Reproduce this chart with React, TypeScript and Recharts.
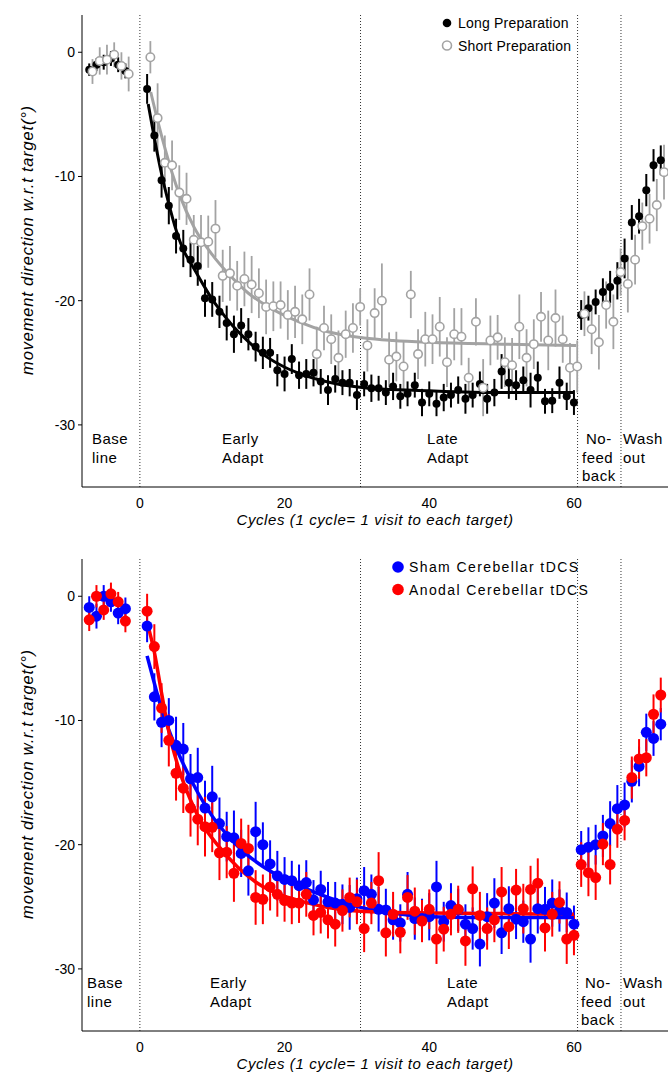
import React from 'react';
import { ComposedChart, Scatter, Line, XAxis, YAxis, ErrorBar, ReferenceLine } from 'recharts';

// ---------- data ----------
const cycles = [-7, -6, -5, -4, -3, -2,
  1, 2, 3, 4, 5, 6, 7, 8, 9, 10, 11, 12, 13, 14, 15, 16, 17, 18, 19, 20,
  21, 22, 23, 24, 25, 26, 27, 28, 29, 30, 31, 32, 33, 34, 35, 36, 37, 38, 39, 40,
  41, 42, 43, 44, 45, 46, 47, 48, 49, 50, 51, 52, 53, 54, 55, 56, 57, 58, 59, 60,
  61, 62, 63, 64, 65, 66, 67, 68, 69, 70, 71, 72];

const longPrep = [-1.4, -1.0, -0.8, -0.5, -1.0, -1.5,
  -2.95, -6.7, -10.3, -12.35, -14.8, -15.8, -16.7, -17.2, -19.8, -19.9,
  -20.9, -21.8, -22.7, -22.0, -22.7, -23.7, -24.2, -24.2, -25.6, -25.9,
  -24.7, -26.0, -25.9, -25.8, -26.5, -27.2, -26.3, -26.6, -26.6, -27.6,
  -26.7, -27.05, -27.05, -27.4, -26.9, -27.7, -27.5, -26.8, -28.2, -27.5,
  -28.3, -27.8, -27.6, -27.2, -27.9, -27.6, -26.7, -27.9, -27.4, -25.7,
  -26.6, -26.8, -26.4, -27.2, -26.2, -28.1, -28.05, -26.6, -27.7, -28.2,
  -21.15, -20.6, -20.1, -19.3, -18.9, -18.4,
  -16.6, -13.7, -13.2, -11.1, -9.1, -8.7];
const longPrepErr = [0.5, 0.5, 0.6, 0.6, 0.6, 0.6,
  1.2, 1.3, 1.4, 1.5, 1.4, 1.5, 1.4, 1.6, 1.5, 1.4,
  1.3, 1.4, 1.5, 1.4, 1.3, 1.2, 1.3, 1.2, 1.3, 1.4,
  1.2, 1.1, 1.2, 1.1, 1.0, 1.2, 1.1, 1.0, 1.1, 1.2,
  1.0, 1.1, 1.0, 1.0, 1.1, 1.0, 1.0, 1.0, 1.1, 1.0,
  1.0, 1.1, 1.0, 1.1, 1.2, 1.0, 1.0, 1.2, 1.1, 1.4,
  1.3, 1.2, 1.1, 1.4, 1.3, 1.0, 1.0, 1.3, 1.1, 1.0,
  1.2, 1.0, 1.0, 1.1, 1.3, 1.5,
  1.6, 1.4, 1.4, 1.3, 1.3, 1.2];

const shortPrep = [-1.55, -0.7, -0.6, -0.2, -1.1, -1.75,
  -0.4, -5.3, -8.9, -9.1, -11.3, -11.8, -15.1, -15.3, -15.25, -14.2,
  -18.0, -17.8, -18.8, -18.25, -18.7, -19.4, -20.5, -20.45, -20.35, -21.15,
  -20.9, -21.5, -19.5, -24.3, -22.2, -23.1, -24.6, -22.7, -22.2, -20.5,
  -23.6, -21.0, -20.0, -24.75, -24.5, -25.3, -19.5, -24.3, -23.1, -23.1,
  -22.1, -24.95, -22.7, -22.9, -26.2, -21.7, -27.0, -23.2, -22.95, -24.95,
  -25.2, -22.1, -24.6, -23.5, -21.3, -23.2, -21.4, -23.1, -25.4, -25.3,
  -21.05, -22.3, -23.35, -20.35, -21.7, -17.7,
  -18.65, -16.7, -14.0, -13.4, -12.3, -9.65];
const shortPrepErr = [1.0, 1.1, 1.2, 1.0, 1.1, 1.4,
  1.3, 2.8, 2.2, 2.0, 2.2, 2.1, 2.0, 2.2, 2.1, 2.3,
  2.1, 2.2, 2.0, 2.2, 2.3, 2.0, 2.2, 2.0, 1.9, 2.0,
  2.1, 2.0, 2.1, 2.2, 1.8, 2.0, 2.2, 1.9, 2.0, 1.5,
  2.1, 2.0, 3.0, 2.2, 2.0, 2.1, 1.9, 2.0, 2.2, 2.0,
  2.4, 2.0, 2.1, 2.3, 1.6, 1.9, 2.3, 2.0, 1.8, 2.0,
  2.2, 2.6, 2.3, 2.0, 2.0, 2.4, 2.3, 1.9, 2.0, 2.1,
  1.8, 2.0, 2.2, 1.9, 2.2, 1.9,
  2.3, 2.0, 1.9, 2.0, 2.1, 2.2];

const sham = [-0.9, -1.6, 0.0, -0.45, -1.35, -1.0,
  -2.4, -8.1, -10.15, -10.0, -12.0, -12.3, -14.7, -14.6, -17.05, -16.15,
  -18.3, -19.35, -19.45, -20.7, -22.1, -18.95, -20.0, -21.55, -22.5, -22.8,
  -22.9, -23.3, -23.05, -24.45, -23.6, -24.6, -24.7, -24.8, -25.05, -24.35,
  -23.7, -24.0, -25.2, -25.25, -26.05, -26.3, -24.0, -25.95, -25.95, -25.8,
  -23.4, -26.2, -24.9, -25.25, -26.4, -26.75, -28.0, -25.8, -24.7, -27.1,
  -25.15, -26.0, -26.2, -27.6, -25.15, -25.2, -24.7, -25.3, -25.45, -26.4,
  -20.4, -20.2, -20.0, -19.3, -18.3, -17.1,
  -16.8, -14.9, -13.7, -10.95, -11.45, -10.3];
const shamErr = [0.9, 1.0, 0.9, 0.8, 0.9, 0.9,
  1.3, 1.9, 2.0, 1.8, 2.3, 2.1, 2.0, 2.4, 2.2, 2.5,
  2.1, 2.0, 2.2, 1.9, 2.0, 2.4, 1.8, 1.9, 2.0, 1.8,
  1.6, 1.7, 1.8, 1.6, 1.5, 1.6, 1.7, 1.6, 1.8, 1.7,
  1.9, 1.6, 1.8, 1.7, 1.6, 1.5, 1.8, 1.7, 1.6, 1.9,
  2.1, 1.6, 1.8, 1.7, 1.6, 1.7, 1.8, 1.9, 2.0, 1.7,
  1.8, 1.6, 1.7, 1.9, 2.0, 1.8, 1.9, 1.7, 1.6, 1.5,
  1.5, 1.6, 1.6, 1.7, 1.8, 1.9,
  1.8, 1.7, 1.6, 1.5, 1.4, 1.3];

const anodal = [-1.9, 0.0, -1.1, 0.2, -0.45, -2.0,
  -1.2, -4.05, -9.0, -11.6, -14.25, -15.45, -17.05, -17.95, -18.55, -18.6,
  -20.65, -20.6, -22.3, -19.9, -20.3, -24.25, -24.4, -23.4, -24.0, -24.5,
  -24.7, -24.7, -24.0, -25.7, -25.45, -26.05, -26.4, -25.3, -24.25, -24.6,
  -26.75, -24.7, -22.9, -27.1, -25.6, -27.05, -24.25, -25.35, -26.15, -25.2,
  -27.6, -26.8, -25.6, -25.2, -27.75, -23.55, -25.7, -26.75, -26.05, -23.8,
  -26.6, -23.65, -25.15, -23.6, -23.1, -26.7, -25.6, -24.65, -27.6, -27.3,
  -21.6, -22.25, -22.65, -19.95, -21.6, -18.75,
  -18.05, -14.6, -13.1, -13.0, -9.5, -7.95];
const anodalErr = [0.9, 0.9, 0.8, 0.9, 0.8, 0.9,
  1.4, 1.8, 2.0, 2.1, 2.2, 2.0, 2.3, 2.1, 2.4, 2.0,
  2.2, 2.1, 2.3, 2.0, 1.9, 2.2, 2.0, 1.9, 1.8, 1.7,
  1.7, 1.6, 1.8, 1.6, 1.7, 1.5, 1.8, 1.7, 1.6, 1.8,
  1.9, 1.7, 2.3, 1.9, 1.8, 1.7, 1.8, 1.9, 1.7, 1.6,
  2.0, 1.8, 1.7, 1.9, 2.0, 1.8, 1.9, 1.7, 1.8, 2.0,
  1.8, 1.7, 2.0, 1.9, 2.0, 1.9, 1.8, 1.7, 2.0, 1.6,
  1.8, 1.9, 1.8, 1.7, 1.6, 1.5,
  1.6, 1.7, 1.6, 1.5, 1.6, 1.4];

// exponential fits
const fitLongX = [1.15, 2, 3, 4, 5, 6, 7, 8, 9, 10, 11, 12.5, 15, 17, 19.5, 22, 26, 31, 40, 50, 60];
const fitLongY = [-4.16, -6.9, -9.8, -12.2, -14.3, -15.9, -16.95, -17.95, -18.95, -19.9, -20.7, -21.8, -23.3, -24.3, -25.2, -25.85, -26.55, -27.0, -27.25, -27.4, -27.4];
const fitShortX = [1.5, 2.5, 3.5, 4.5, 5.5, 7.5, 10, 12.5, 15, 17.5, 22, 26, 31, 35, 40, 50, 60.3];
const fitShortY = [-3.2, -5.6, -7.8, -9.8, -11.5, -14.1, -16.3, -18.0, -19.4, -20.4, -21.7, -22.5, -23.0, -23.2, -23.35, -23.5, -23.6];
const fitShamX = [1, 2, 3, 4.5, 6, 8, 10, 12.5, 15, 17, 19.5, 22, 26, 30.5, 35, 40, 50, 60];
const fitShamY = [-4.8, -7.0, -9.1, -11.5, -13.5, -15.8, -17.7, -19.5, -20.9, -21.75, -22.6, -23.3, -24.25, -25.05, -25.5, -25.8, -25.87, -25.87];
const fitAnodalX = [1, 2, 3, 4, 5.5, 7, 8.5, 11, 13.5, 16, 19.5, 22, 26, 30.5, 40, 50, 60];
const fitAnodalY = [-2.1, -4.5, -7.8, -10.9, -14.1, -16.4, -18.2, -20.2, -21.8, -23.0, -24.05, -24.5, -25.05, -25.35, -25.5, -25.55, -25.6];

const phaseBounds = [0, 30.5, 60.5, 66.5];
const xTicks = [0, 20, 40, 60];
const yTicks = [-30, -20, -10, 0];
const shortJitter = 0.45;

// ---------- helpers ----------
const rows = (vals: number[], errs: number[], shift = 0) =>
  cycles.map((c, i) => ({ x: c + shift, y: vals[i], e: errs[i] }));
const fitRows = (xs: number[], ys: number[]) => xs.map((x, i) => ({ x, y: ys[i] }));

const FONT = '"Liberation Sans", Arial, Helvetica, sans-serif';

const dot = (r: number, fill: string, stroke: string, sw: number) => (p: any) =>
  <circle cx={p.cx} cy={p.cy} r={r} fill={fill} stroke={stroke} strokeWidth={sw} />;

type SeriesDef = { name: string; data: any[]; color: string; fill: string; r: number; sw: number; errW: number };
type FitDef = { data: any[]; color: string; width: number };
type Phase = { x: number; lines: string[]; dx?: number[] };

const W = 668;
const H = 544;

function Panel({ series, fits, legendX, legendSpacing, phases }: { series: SeriesDef[]; fits: FitDef[]; legendX: number; legendSpacing: number; phases: Phase[] }) {
  return (
    <div style={{ position: 'relative', width: W, height: H }}>
      <ComposedChart width={W} height={H} margin={{ top: 15, right: 0, bottom: 0, left: 0 }}>
        <XAxis type="number" dataKey="x" domain={[-8, 73]} ticks={xTicks} allowDataOverflow height={57}
          tickLine={false} tickSize={8} tickMargin={3} axisLine={{ stroke: '#000', strokeWidth: 1 }}
          tick={{ fill: '#000', fontSize: 14, fontFamily: FONT }} />
        <YAxis type="number" dataKey="y" domain={[-35, 3]} ticks={yTicks} allowDataOverflow width={82}
          tickSize={4} tickMargin={3} axisLine={{ stroke: '#000', strokeWidth: 1 }} tickLine={{ stroke: '#000' }}
          tick={{ fill: '#000', fontSize: 14, fontFamily: FONT }} />
        {phaseBounds.map((b) => (
          <ReferenceLine key={b} x={b} stroke="#333" strokeWidth={1} strokeDasharray="1 2" />
        ))}
        {series.map((s) => (
          <Scatter key={s.name} name={s.name} data={s.data} dataKey="y" isAnimationActive={false}
            shape={dot(s.r, s.fill, s.color, s.sw)}>
            <ErrorBar dataKey="e" direction="y" width={0} stroke={s.color} strokeWidth={s.errW} />
          </Scatter>
        ))}
        {fits.map((f, i) => (
          <Line key={i} data={f.data} dataKey="y" type="monotone" stroke={f.color} strokeWidth={f.width}
            dot={false} activeDot={false} isAnimationActive={false} />
        ))}
      </ComposedChart>
      <svg width={W} height={H} style={{ position: 'absolute', left: 0, top: 0, pointerEvents: 'none' }}>
        <text transform="translate(27,240) rotate(-90)" textAnchor="middle" dominantBaseline="central"
          fontFamily={FONT} fontStyle="italic" fontSize={16.5} letterSpacing={0.8} fill="#000">
          movement direction w.r.t target(°)
        </text>
        <text x={375} y={525} textAnchor="middle" fontFamily={FONT} fontStyle="italic" fontSize={15}
          letterSpacing={0.6} fill="#000">
          Cycles (1 cycle= 1 visit to each target)
        </text>
        {series.map((s, i) => (
          <g key={s.name}>
            <circle cx={legendX} cy={23 + i * 22.5} r={s.r + 0.3} fill={s.fill} stroke={s.color} strokeWidth={s.sw} />
            <text x={legendX + 11} y={28 + i * 22.5} fontFamily={FONT} fontSize={14} letterSpacing={legendSpacing} fill="#000">{s.name}</text>
          </g>
        ))}
        {phases.map((p, i) => (
          <text key={i} fontFamily={FONT} fontSize={15} letterSpacing={0.5} fill="#000">
            {p.lines.map((l, j) => (
              <tspan key={j} x={p.x + (p.dx ? p.dx[j] : 0)} y={444 + j * 18.5}>{l}</tspan>
            ))}
          </text>
        ))}
      </svg>
    </div>
  );
}

export default function App() {
  const topSeries: SeriesDef[] = [
    { name: 'Long Preparation', data: rows(longPrep, longPrepErr), color: '#000', fill: '#000', r: 4, sw: 0, errW: 2 },
    { name: 'Short Preparation', data: rows(shortPrep, shortPrepErr, shortJitter), color: '#a3a3a3', fill: '#fff', r: 4.2, sw: 1.6, errW: 1.8 },
  ];
  const topFits: FitDef[] = [
    { data: fitRows(fitLongX, fitLongY), color: '#000', width: 3 },
    { data: fitRows(fitShortX, fitShortY), color: '#a3a3a3', width: 3 },
  ];
  const botSeries: SeriesDef[] = [
    { name: 'Sham Cerebellar tDCS', data: rows(sham, shamErr), color: '#0000ff', fill: '#0000ff', r: 5.5, sw: 0, errW: 2 },
    { name: 'Anodal Cerebellar tDCS', data: rows(anodal, anodalErr), color: '#ff0000', fill: '#ff0000', r: 5.5, sw: 0, errW: 2 },
  ];
  const botFits: FitDef[] = [
    { data: fitRows(fitShamX, fitShamY), color: '#0000ff', width: 3.5 },
    { data: fitRows(fitAnodalX, fitAnodalY), color: '#ff0000', width: 3.5 },
  ];
  const topPhases: Phase[] = [
    { x: 92, lines: ['Base', 'line'] },
    { x: 222, lines: ['Early', 'Adapt'] },
    { x: 427, lines: ['Late', 'Adapt'] },
    { x: 582, lines: ['No-', 'feed', 'back'], dx: [4, 0, 0] },
    { x: 623, lines: ['Wash', 'out'] },
  ];
  const botPhases: Phase[] = [
    { x: 87, lines: ['Base', 'line'] },
    { x: 210, lines: ['Early', 'Adapt'] },
    { x: 447, lines: ['Late', 'Adapt'] },
    { x: 581, lines: ['No-', 'feed', 'back'], dx: [4, 0, 0] },
    { x: 623, lines: ['Wash', 'out'] },
  ];
  return (
    <div style={{ position: 'absolute', left: 0, top: 0, width: 668, height: 1074, overflow: 'hidden', background: '#fff' }}>
      <Panel series={topSeries} fits={topFits} legendX={447} legendSpacing={0.2} phases={topPhases} />
      <Panel series={botSeries} fits={botFits} legendX={398} legendSpacing={1.4} phases={botPhases} />
    </div>
  );
}
